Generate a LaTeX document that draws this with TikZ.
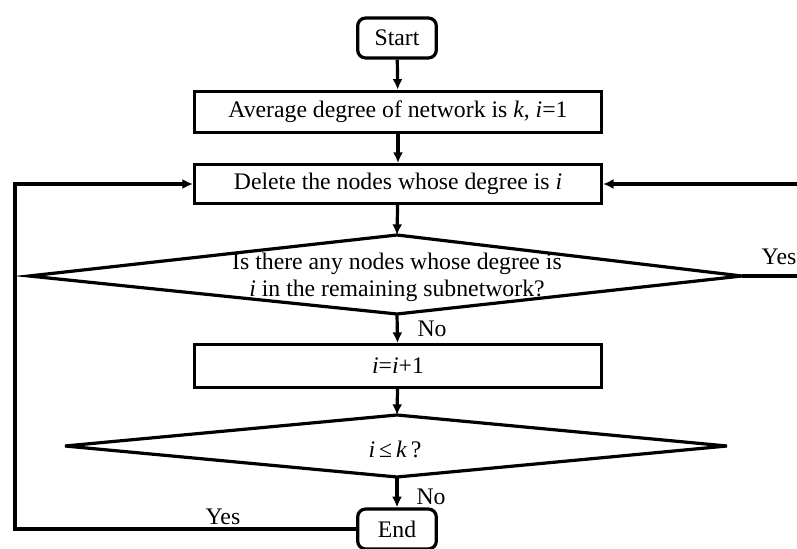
\documentclass[tikz,border=0pt]{standalone}
\usepackage{fontspec}
\setmainfont{Liberation Serif}
\usetikzlibrary{arrows.meta}

\begin{document}
\begin{tikzpicture}[x=0.75pt, y=-0.75pt,
  every node/.style={font=\fontsize{17.8}{20}\selectfont},
  term/.style={draw, line width=2.4pt, rounded corners=6pt, minimum width=59pt, minimum height=30pt},
  proc/.style={draw, line width=2.4pt, minimum width=305pt, minimum height=31pt},
  dec/.style={draw, line width=2.4pt, line join=miter},
  arr/.style={line width=2.4pt, -{Latex[length=8pt, width=7.5pt]}}]
\useasboundingbox (0,0) rectangle (797,549);
\clip (0,0) rectangle (797,549);

\node[term] (start) at (397,38) {Start};
\node[proc] (init) at (398,112) {Average degree of network is \textit{k}, \textit{i}=1};
\node[proc, minimum height=29pt] (del) at (398,184) {Delete the nodes whose degree is \textit{i}};
\node[proc, minimum height=32pt] (inc) at (398,366) {\textit{i}=\textit{i}+1};
\node[term] (end) at (397,529) {End};

% decisions
\coordinate (q1t) at (397,235);
\coordinate (q1l) at (29,276);
\coordinate (q1b) at (397,314);
\coordinate (q1r) at (742,276);
\draw[dec] (q1t) -- (q1r) -- (q1b) -- (q1l) -- cycle;
\node[align=center] (q1) at (397,277) {Is there any nodes whose degree is\\\textit{i} in the remaining subnetwork?};

\coordinate (q2t) at (397,415);
\coordinate (q2l) at (65,446);
\coordinate (q2b) at (397,477);
\coordinate (q2r) at (727,446);
\draw[dec] (q2t) -- (q2r) -- (q2b) -- (q2l) -- cycle;
\node (q2) at (395,449) {\textit{i}\,≤\,\textit{k}\,?};

\draw[arr] (start) -- (init);
\draw[arr] (init) -- (del);
\draw[arr] (del) -- (q1t);
\draw[arr] (q1b) -- (inc);
\draw[arr] (inc) -- (q2t);
\draw[arr] (q2b) -- (end);

\coordinate (rt) at (812,184);
\coordinate (lt) at (15,529);
\draw[arr] (q1r) -| (rt) -- (del.east);
\draw[arr] (end.west) -- (lt) |- (del.west);

\node (no1) at (432,329) {No};
\node (no2) at (431,497) {No};
\node (yes1) at (779,257) {Yes};
\node (yes2) at (223,517) {Yes};
\end{tikzpicture}
\end{document}
